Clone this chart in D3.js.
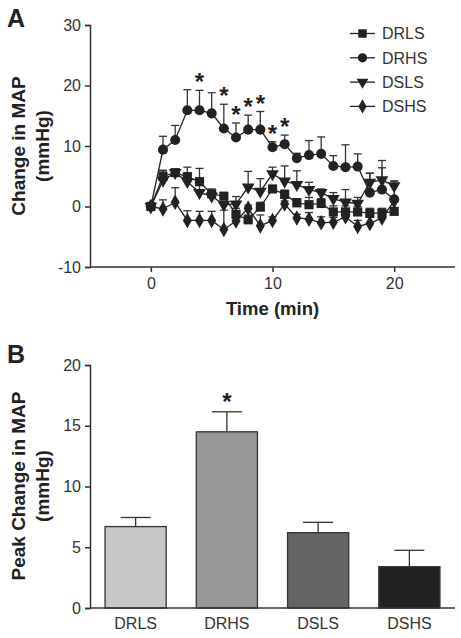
<!DOCTYPE html>
<html><head><meta charset="utf-8">
<script src="https://cdn.jsdelivr.net/npm/d3@7"></script>
<style>body{margin:0;background:#fff}svg{display:block}</style>
</head><body><svg id="c" width="461" height="638"></svg>
<script>
// ---- data ----
const time = [0,1,2,3,4,5,6,7,8,9,10,11,12,13,14,15,16,17,18,19,20];
const drls    = [0,5.0,5.6,4.9,4.1,2.1,1.7,-1.3,-2.2,-0.1,2.9,2.0,0.6,0.3,0.5,-0.9,-0.9,-0.9,-1.1,-1.1,-0.8];
const drlsErr = [0,1.0,0.4,1.6,2.2,0.8,0.6,1.0,0.8,0.8,0.5,0.7,0.7,1.2,0.8,1.0,1.0,0.9,0.8,0.8,0.6];
const drhs    = [0,9.4,11.0,15.9,15.9,15.4,12.9,11.4,12.7,12.7,9.8,10.3,8.0,8.5,8.7,6.7,6.5,6.6,2.3,2.8,1.2];
const drhsErr = [0,2.2,2.4,3.4,3.3,3.4,4.0,2.4,2.4,3.0,0.9,1.5,0.8,2.4,2.8,1.7,3.7,2.1,3.2,4.8,3.0];
const dsls    = [0,4.3,5.6,4.1,2.3,1.7,0.3,0.4,3.2,2.5,5.4,4.2,3.6,2.8,2.3,1.3,0.7,0.5,4.0,4.4,3.4];
const dslsErr = [0,1.6,0.5,1.5,1.9,0.7,0.5,1.25,2.6,2.1,1.1,2.5,2.3,1.2,0.6,1.0,2.1,1.0,1.5,2.0,0.8];
const dshs    = [0,-0.4,0.7,-2.3,-2.3,-2.3,-3.8,-2.4,-0.3,-3.2,-2.3,0.4,-1.9,-2.1,-2.7,-2.6,-1.7,-3.3,-2.8,-1.9,0.9];
const dshsErr = [0,1.5,2.4,1.6,1.5,1.5,3.2,1.0,0.5,1.8,0.6,0.5,0.6,1.1,1.0,0.8,1.2,1.0,1.0,1.0,0.6];
const sigTimes = [4,6,7,8,9,10,11];
const groups = ["DRLS","DRHS","DSLS","DSHS"];
const peak    = [6.7,14.5,6.2,3.4];
const peakErr = [0.75,1.65,0.85,1.35];
const peakSig = ["DRHS"];
const yTicksA = [-10,0,10,20,30];
const xTicksA = [0,10,20];
const yTicksB = [0,5,10,15,20];

const FONT = "'Liberation Sans', Arial, Helvetica, sans-serif";
const INK = "#222";
const AX = "#333";
const svg = d3.select("#c");
const fmt = d => String(d);

// ---- Panel A ----
const x = d3.scaleLinear().domain([-5,25]).range([90,455]);
const y = d3.scaleLinear().domain([-10,30]).range([267,25]);

const gA = svg.append("g");
const yAxA = gA.append("g").attr("transform","translate(90,0)")
  .call(d3.axisLeft(y).tickValues(yTicksA).tickSize(5).tickPadding(4).tickFormat(fmt));
const xAxA = gA.append("g").attr("transform","translate(0,267)")
  .call(d3.axisBottom(x).tickValues(xTicksA).tickSize(5).tickPadding(6).tickFormat(fmt));
[yAxA,xAxA].forEach(a=>{
  a.select(".domain").attr("stroke",AX).attr("stroke-width",1.5);
  a.selectAll(".tick line").attr("stroke",AX).attr("stroke-width",1.5);
  a.selectAll(".tick text").attr("font-family",FONT).attr("font-size",16).attr("fill","#333");
});
xAxA.select(".domain").attr("d","M90,0H455");

const series = [
  {name:"DRLS", v:drls, e:drlsErr, sym:d3.symbolSquare, size:84, rot:0},
  {name:"DRHS", v:drhs, e:drhsErr, sym:d3.symbolCircle, size:80, rot:0},
  {name:"DSLS", v:dsls, e:dslsErr, sym:d3.symbolTriangle, size:70, rot:180},
  {name:"DSHS", v:dshs, e:dshsErr, sym:d3.symbolDiamond, size:70, rot:0}
];
const line = d3.line().x((d,i)=>x(time[i])).y(d=>y(d));

series.forEach(s=>{
  const g = gA.append("g");
  time.forEach((t,i)=>{
    if(!s.e[i]) return;
    const x0=x(t), y0=y(s.v[i]), y1=y(s.v[i]+s.e[i]);
    g.append("line").attr("x1",x0).attr("x2",x0).attr("y1",y0).attr("y2",y1)
      .attr("stroke",AX).attr("stroke-width",1.3);
    g.append("line").attr("x1",x0-4).attr("x2",x0+4).attr("y1",y1).attr("y2",y1)
      .attr("stroke",AX).attr("stroke-width",1.3);
  });
});
series.forEach(s=>{
  gA.append("path").attr("d",line(s.v)).attr("fill","none").attr("stroke",INK).attr("stroke-width",1.3);
});
series.forEach(s=>{
  gA.append("g").selectAll("path").data(s.v).join("path")
    .attr("d",d3.symbol(s.sym,s.size))
    .attr("transform",(d,i)=>`translate(${x(time[i])},${y(d)}) rotate(${s.rot})`)
    .attr("fill",INK);
});
// asterisks
gA.selectAll("text.sig").data(sigTimes).join("text").attr("class","sig")
  .attr("x",t=>x(t)).attr("y",t=>y(drhs[t]+drhsErr[t])-14+14)
  .attr("text-anchor","middle").attr("font-family",FONT).attr("font-weight","bold")
  .attr("font-size",24).attr("fill",INK).text("*");

// legend
const leg = gA.append("g");
series.forEach((s,i)=>{
  const ly = 33.5 + i*24.3;
  leg.append("line").attr("x1",350).attr("x2",375).attr("y1",ly).attr("y2",ly).attr("stroke",INK).attr("stroke-width",1.3);
  leg.append("path").attr("d",d3.symbol(s.sym,s.size*0.85)).attr("transform",`translate(362.5,${ly}) rotate(${s.rot})`).attr("fill",INK);
  leg.append("text").attr("x",382).attr("y",ly+5.8).attr("font-family",FONT).attr("font-size",16).attr("fill","#333").text(s.name);
});

// titles
svg.append("text").attr("x",7).attr("y",27).attr("font-family",FONT).attr("font-weight","bold").attr("font-size",25).attr("fill",INK).text("A");
const tA = svg.append("text").attr("transform","translate(25,146) rotate(-90)").attr("text-anchor","middle")
  .attr("font-family",FONT).attr("font-weight","bold").attr("font-size",19).attr("fill",INK);
tA.append("tspan").attr("x",0).attr("y",0).text("Change in MAP");
tA.append("tspan").attr("x",0).attr("y",24).text("(mmHg)");
svg.append("text").attr("x",272.5).attr("y",314.5).attr("text-anchor","middle").attr("font-family",FONT)
  .attr("font-weight","bold").attr("font-size",18.5).attr("fill",INK).text("Time (min)");

// ---- Panel B ----
const xb = d3.scaleBand().domain(groups).range([90,455]).paddingInner(0.33).paddingOuter(0.165);
const yb = d3.scaleLinear().domain([0,20]).range([608,365]);
const fills = ["#c8c8c8","#979797","#646464","#222222"];
const gB = svg.append("g");
const yAxB = gB.append("g").attr("transform","translate(90,0)")
  .call(d3.axisLeft(yb).tickValues(yTicksB).tickSize(5).tickPadding(4).tickFormat(fmt));
yAxB.select(".domain").attr("stroke",AX).attr("stroke-width",1.5);
yAxB.selectAll(".tick line").attr("stroke",AX).attr("stroke-width",1.5);
yAxB.selectAll(".tick text").attr("font-family",FONT).attr("font-size",16).attr("fill","#333");

gB.selectAll("rect.bar").data(groups).join("rect").attr("class","bar")
  .attr("x",d=>xb(d)).attr("width",xb.bandwidth())
  .attr("y",(d,i)=>yb(peak[i])).attr("height",(d,i)=>yb(0)-yb(peak[i]))
  .attr("fill",(d,i)=>fills[i]).attr("stroke",AX).attr("stroke-width",1.3);
groups.forEach((g,i)=>{
  const cx = xb(g)+xb.bandwidth()/2, y0=yb(peak[i]), y1=yb(peak[i]+peakErr[i]);
  gB.append("line").attr("x1",cx).attr("x2",cx).attr("y1",y0).attr("y2",y1).attr("stroke",AX).attr("stroke-width",1.3);
  gB.append("line").attr("x1",cx-15).attr("x2",cx+15).attr("y1",y1).attr("y2",y1).attr("stroke",AX).attr("stroke-width",1.3);
});
const xAxB = gB.append("g").attr("transform","translate(0,608)").call(d3.axisBottom(xb).tickSize(0).tickPadding(10));
xAxB.select(".domain").attr("stroke",AX).attr("stroke-width",1.5).attr("d","M90,0H455");
xAxB.selectAll(".tick text").attr("font-family",FONT).attr("font-size",16).attr("fill","#333");
gB.selectAll("text.sigb").data(peakSig).join("text").attr("class","sigb")
  .attr("x",d=>xb(d)+xb.bandwidth()/2)
  .attr("y",d=>{const i=groups.indexOf(d);return yb(peak[i]+peakErr[i])-16+14;})
  .attr("text-anchor","middle").attr("font-family",FONT).attr("font-weight","bold").attr("font-size",24).attr("fill",INK).text("*");

svg.append("text").attr("x",7).attr("y",363).attr("font-family",FONT).attr("font-weight","bold").attr("font-size",25).attr("fill",INK).text("B");
const tB = svg.append("text").attr("transform","translate(25,486) rotate(-90)").attr("text-anchor","middle")
  .attr("font-family",FONT).attr("font-weight","bold").attr("font-size",19).attr("fill",INK);
tB.append("tspan").attr("x",0).attr("y",0).text("Peak Change in MAP");
tB.append("tspan").attr("x",0).attr("y",24).text("(mmHg)");
</script></body></html>
